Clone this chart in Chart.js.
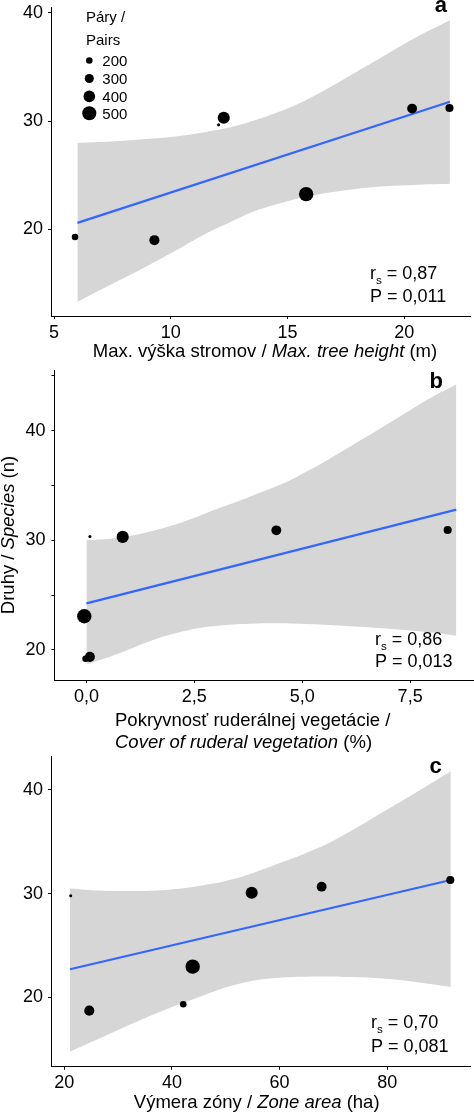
<!DOCTYPE html>
<html>
<head>
<meta charset="utf-8">
<title>Druhy / Species</title>
<script src="https://cdn.jsdelivr.net/npm/chart.js@4.4.1/dist/chart.umd.min.js"></script>
<style>
  html, body { margin: 0; padding: 0; background: #fff; }
  #wrap { position: relative; width: 474px; height: 1113px; overflow: hidden; }
  #wrap canvas { position: absolute; left: 0; }
</style>
</head>
<body>
<div id="wrap">
  <canvas id="panel-a" width="474" height="365" style="top:0px"></canvas>
  <canvas id="panel-b" width="474" height="390" style="top:365px"></canvas>
  <canvas id="panel-c" width="474" height="363" style="top:750px"></canvas>
</div>
<script>
// same seven sites, same order, in every panel
var pairs = [200, 340, 60, 420, 510, 330, 260];
var sizeBreaks = [200, 300, 400, 500];

// a - max. tree height
var treeHeight = [5.9, 9.3, 12.05, 12.27, 15.8, 20.34, 21.94];
var speciesA = [19.3, 19.0, 29.65, 30.3, 23.25, 31.15, 31.2];
var fitAx = [6.0, 21.96];
var fitAy = [20.6, 31.78];
var bandAx = [6.0, 7.25, 8.67, 10.1, 11.5, 12.5, 13.5, 14.7, 15.8, 16.8, 18.0, 19.0, 20.4, 21.96];
var bandAlo = [13.3, 14.7, 16.25, 17.9, 19.6, 20.6, 21.6, 22.4, 23.0, 23.4, 23.75, 23.95, 24.1, 24.2];
var bandAhi = [28.0, 28.1, 28.3, 28.55, 29.0, 29.4, 30.0, 30.9, 31.95, 33.1, 34.6, 35.85, 37.6, 39.3];
var ticksAx = [5, 10, 15, 20];
var labelsAx = ['5', '10', '15', '20'];
var ticksAy = [20, 30, 40];
var labelsAy = ['20', '30', '40'];

// b - cover of ruderal vegetation
var ruderalCover = [-0.02, 0.08, 0.08, 0.84, -0.05, 4.4, 8.37];
var speciesB = [19.2, 19.37, 30.34, 30.31, 23.07, 30.91, 30.94];
var fitBx = [0, 8.57];
var fitBy = [24.25, 32.8];
var bandBx = [0, 0.7, 1.47, 2.25, 3.02, 3.8, 4.88, 6.43, 7.98, 8.57];
var bandBlo = [18.67, 19.6, 20.8, 21.7, 22.2, 22.4, 22.4, 22.1, 21.6, 21.3];
var bandBhi = [30.0, 30.2, 30.8, 31.7, 32.85, 34.0, 35.8, 39.3, 43.0, 44.2];
var ticksBx = [0, 2.5, 5, 7.5];
var labelsBx = ['0,0', '2,5', '5,0', '7,5'];
var ticksBy = [20, 25, 30, 35, 40, 45];
var labelsBy = ['20', '', '30', '', '40', ''];

// c - zone area
var zoneArea = [42.1, 24.64, 21.19, 54.81, 43.85, 67.81, 91.71];
var speciesC = [19.32, 18.71, 29.8, 30.09, 22.95, 30.67, 31.31];
var fitCx = [21.06, 91.8];
var fitCy = [22.7, 31.31];
var bandCx = [21.06, 26.6, 32.8, 39.0, 45.2, 51.4, 58.2, 66.9, 73.1, 79.3, 85.5, 91.8];
var bandClo = [14.75, 16.05, 17.5, 18.85, 20.05, 21.15, 21.8, 22.0, 21.95, 21.8, 21.45, 21.0];
var bandChi = [30.5, 30.3, 30.25, 30.35, 30.75, 31.4, 32.6, 34.35, 36.0, 37.9, 39.8, 41.8];
var ticksCx = [20, 40, 60, 80];
var labelsCx = ['20', '40', '60', '80'];
var ticksCy = [20, 30, 40];
var labelsCy = ['20', '30', '40'];

var stats = {
    a: ['0,87', '0,011'],
    b: ['0,86', '0,013'],
    c: ['0,70', '0,081']
};

var FONT = '"Liberation Sans", Arial, Helvetica, sans-serif';
var BAND = '#d6d6d6';
var BLUE = '#3366ff';

function pairsToRadius(v) {
    return 0.8 + 0.0125 * v;
}

function zip(xs, ys) {
    return xs.map(function(x, i) { return {x: x, y: ys[i]}; });
}

function runFont(r, size) {
    var s = r.sub ? size * 0.65 : size;
    return (r.it ? 'italic ' : '') + (r.b ? 'bold ' : '') + s + 'px ' + FONT;
}

function drawRuns(ctx, item) {
    ctx.save();
    ctx.translate(item.x, item.y);
    if (item.rotate) ctx.rotate(item.rotate);
    ctx.textBaseline = 'alphabetic';
    ctx.textAlign = 'left';
    ctx.fillStyle = '#000';
    var w = 0;
    item.runs.forEach(function(r) {
        ctx.font = runFont(r, item.size);
        w += ctx.measureText(r.t).width;
    });
    var x = item.align === 'center' ? -w / 2 : (item.align === 'right' ? -w : 0);
    item.runs.forEach(function(r) {
        ctx.font = runFont(r, item.size);
        ctx.fillText(r.t, x, r.sub ? item.size * 0.25 : 0);
        x += ctx.measureText(r.t).width;
    });
    ctx.restore();
}

// texts with mixed styles + the size legend
var panelText = {
    id: 'panelText',
    afterDraw: function(chart, args, opts) {
        var ctx = chart.ctx;
        (opts.items || []).forEach(function(item) { drawRuns(ctx, item); });
        var lg = opts.sizeLegend;
        if (lg) {
            ctx.save();
            ctx.fillStyle = '#000';
            ctx.font = lg.size + 'px ' + FONT;
            ctx.textBaseline = 'alphabetic';
            ctx.textAlign = 'left';
            ctx.fillText(lg.title[0], lg.titleX, lg.titleY[0]);
            ctx.fillText(lg.title[1], lg.titleX, lg.titleY[1]);
            lg.values.forEach(function(v, i) {
                ctx.beginPath();
                ctx.arc(lg.x, lg.ys[i], pairsToRadius(v), 0, Math.PI * 2);
                ctx.fill();
                ctx.fillText(String(v), lg.labelX, lg.ys[i] + lg.size * 0.36);
            });
            ctx.restore();
        }
    }
};

function axis(min, max, ticks, labels, size, pad) {
    return {
        type: 'linear',
        min: min,
        max: max,
        afterBuildTicks: function(s) {
            s.ticks = ticks.map(function(v) { return {value: v}; });
        },
        afterFit: function(s) {
            if (s.isHorizontal()) s.height = size; else s.width = size;
            s.paddingTop = 0; s.paddingBottom = 0; s.paddingLeft = 0; s.paddingRight = 0;
        },
        ticks: {
            autoSkip: false,
            maxRotation: 0,
            padding: pad,
            color: '#000',
            font: {family: FONT, size: 18},
            callback: function(v, i) { return labels[i]; }
        },
        grid: {drawOnChartArea: false, drawTicks: true, tickLength: 3, tickColor: '#000', tickWidth: 1},
        border: {display: true, color: '#000', width: 1}
    };
}

function statItems(key, x, y1, y2) {
    return [
        {x: x, y: y1, size: 18, runs: [{t: 'r'}, {t: 's', sub: true}, {t: ' = ' + stats[key][0]}]},
        {x: x, y: y2, size: 18, runs: [{t: 'P = ' + stats[key][1]}]}
    ];
}

function makePanel(id, p) {
    var points = p.xs.map(function(x, i) {
        return {x: x, y: p.ys[i], r: pairsToRadius(pairs[i])};
    });
    return new Chart(document.getElementById(id), {
        type: 'bubble',
        data: {
            datasets: [{
                data: points,
                backgroundColor: '#000',
                borderWidth: 0
            }, {
                type: 'line',
                data: zip(p.fitX, p.fitY),
                borderColor: BLUE,
                borderWidth: 2.2,
                pointRadius: 0,
                fill: false
            }, {
                type: 'line',
                data: zip(p.bandX, p.bandLo),
                borderWidth: 0,
                pointRadius: 0,
                tension: 0.4,
                fill: false
            }, {
                type: 'line',
                data: zip(p.bandX, p.bandHi),
                borderWidth: 0,
                pointRadius: 0,
                tension: 0.4,
                backgroundColor: BAND,
                fill: '-1'
            }]
        },
        options: {
            responsive: false,
            animation: false,
            events: [],
            layout: {padding: p.padding, autoPadding: false},
            scales: {
                x: axis(p.xMin, p.xMax, p.ticksX, p.labelsX, p.xSize, 3),
                y: axis(p.yMin, p.yMax, p.ticksY, p.labelsY, p.ySize, p.yPad)
            },
            plugins: {
                legend: {display: false},
                tooltip: {enabled: false},
                panelText: {items: p.texts, sizeLegend: p.sizeLegend}
            }
        },
        plugins: [panelText]
    });
}

makePanel('panel-a', {
    xs: treeHeight, ys: speciesA,
    fitX: fitAx, fitY: fitAy,
    bandX: bandAx, bandLo: bandAlo, bandHi: bandAhi,
    xMin: 4.87, xMax: 22.82, yMin: 12.0, yMax: 40.53,
    ticksX: ticksAx, labelsX: labelsAx, ticksY: ticksAy, labelsY: labelsAy,
    xSize: 49, ySize: 51, yPad: 5,
    padding: {top: 7, right: 4, left: 0, bottom: 0},
    texts: [
        {x: 265, y: 357, size: 18.5, align: 'center', runs: [
            {t: 'Max. výška stromov / '}, {t: 'Max. tree height', it: true}, {t: ' (m)'}]},
        {x: 447, y: 12, size: 22, align: 'right', runs: [{t: 'a', b: true}]}
    ].concat(statItems('a', 370, 279, 301.5)),
    sizeLegend: {
        title: ['Páry /', 'Pairs'], titleX: 86, titleY: [21.5, 45],
        values: sizeBreaks, x: 89.3, ys: [60.5, 78.5, 96.4, 113.3], labelX: 102.3, size: 15
    }
});

makePanel('panel-b', {
    xs: ruderalCover, ys: speciesB,
    fitX: fitBx, fitY: fitBy,
    bandX: bandBx, bandLo: bandBlo, bandHi: bandBhi,
    xMin: -0.74, xMax: 8.98, yMin: 17.26, yMax: 45.53,
    ticksX: ticksBx, labelsX: labelsBx, ticksY: ticksBy, labelsY: labelsBy,
    xSize: 75, ySize: 54.5, yPad: 6,
    padding: {top: 5, right: 0, left: 0, bottom: 0},
    texts: [
        {x: 115, y: 360.5, size: 18.5, align: 'left', runs: [{t: 'Pokryvnosť ruderálnej vegetácie /'}]},
        {x: 115, y: 383, size: 18.5, align: 'left', runs: [
            {t: 'Cover of ruderal vegetation', it: true}, {t: ' (%)'}]},
        {x: 13.5, y: 170, size: 18.5, align: 'center', rotate: -Math.PI / 2, runs: [
            {t: 'Druhy / '}, {t: 'Species', it: true}, {t: ' (n)'}]},
        {x: 443, y: 23, size: 22, align: 'right', runs: [{t: 'b', b: true}]}
    ].concat(statItems('b', 375, 280, 302.3))
});

makePanel('panel-c', {
    xs: zoneArea, ys: speciesC,
    fitX: fitCx, fitY: fitCy,
    bandX: bandCx, bandLo: bandClo, bandHi: bandChi,
    xMin: 17.53, xMax: 95.37, yMin: 13.3, yMax: 43.21,
    ticksX: ticksCx, labelsX: labelsCx, ticksY: ticksCy, labelsY: labelsCy,
    xSize: 46.3, ySize: 51, yPad: 5,
    padding: {top: 6.7, right: 4, left: 0, bottom: 0},
    texts: [
        {x: 256.7, y: 358.3, size: 18.5, align: 'center', runs: [
            {t: 'Výmera zóny / '}, {t: 'Zone area', it: true}, {t: ' (ha)'}]},
        {x: 441.7, y: 22.7, size: 22, align: 'right', runs: [{t: 'c', b: true}]}
    ].concat(statItems('c', 371, 278.3, 301.7))
});
</script>
</body>
</html>
